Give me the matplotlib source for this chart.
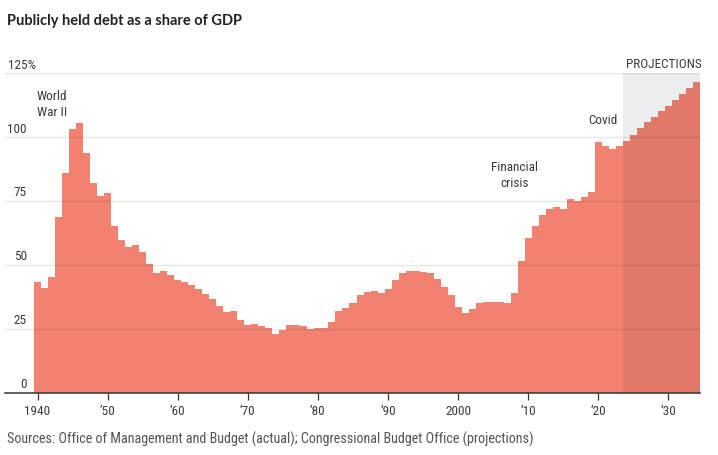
import numpy as np
import matplotlib
matplotlib.use("Agg")
import matplotlib.pyplot as plt
from matplotlib.transforms import blended_transform_factory
from matplotlib import font_manager

# ---- data ----
years = list(range(1940, 2035))
debt_pct = [
    43.3, 41.1, 45.4, 68.8, 86.0, 103.2, 105.5, 93.6, 82.1, 76.9,   # 1940s
    78.2, 65.2, 59.6, 57.0, 57.7, 55.2, 50.5, 46.9, 47.5, 45.9,     # 1950s
    44.1, 43.3, 42.1, 40.7, 38.7, 36.5, 33.7, 31.7, 32.0, 28.4,     # 1960s
    26.6, 26.7, 26.1, 25.1, 23.1, 24.4, 26.4, 26.6, 26.2, 24.8,     # 1970s
    25.3, 25.2, 27.7, 32.0, 32.9, 35.2, 38.2, 39.4, 39.8, 39.1,     # 1980s
    40.4, 43.9, 46.7, 47.6, 47.5, 47.2, 46.7, 44.3, 41.5, 38.1,     # 1990s
    33.3, 31.3, 32.6, 35.0, 35.5, 35.6, 35.3, 35.2, 38.9, 51.6,     # 2000s
    60.4, 65.2, 69.5, 71.7, 72.7, 71.7, 75.6, 75.1, 76.6, 78.4,     # 2010s
    98.1, 96.7, 95.4, 96.5, 98.6, 100.8, 103.6, 105.8, 107.9, 110.1,  # 2020s
    112.3, 114.4, 116.7, 119.1, 121.7,                              # 2030s
]
projection_start = 2024
x_ticks = [1940, 1950, 1960, 1970, 1980, 1990, 2000, 2010, 2020, 2030]
x_tick_labels = ["1940", "\u201950", "\u201960", "\u201970", "\u201980",
                 "\u201990", "2000", "\u201910", "\u201920", "\u201930"]
y_ticks = [0, 25, 50, 75, 100, 125]
y_tick_labels = ["0", "25", "50", "75", "100", "125%"]

title = "Publicly held debt as a share of GDP"
source = "Sources: Office of Management and Budget (actual); Congressional Budget Office (projections)"

# ---- style ----
available = {f.name for f in font_manager.fontManager.ttflist}
narrow = [f for f in ["Liberation Sans Narrow", "Roboto Condensed", "Open Sans Condensed"]
          if f in available]
body_family = narrow + ["Lato", "DejaVu Sans"]
plt.rcParams["font.family"] = body_family
W, H = 718, 456
fig = plt.figure(figsize=(W / 100, H / 100), dpi=100)
fig.patch.set_facecolor("white")

left_px, right_px = 5, 700
bottom_px, top_px = 393.5, 74.3
ax = fig.add_axes([left_px / W, (H - bottom_px) / H,
                   (right_px - left_px) / W, (bottom_px - top_px) / H])

bar_color = "#F2826F"
text_color = "#3a3a3a"
fs = 9.5 if narrow else 8.8
fs_src = 10.2 if narrow else 9.0

edges = np.append(np.array(years) - 0.5, years[-1] + 0.5)
ax.stairs(debt_pct, edges, fill=True, color=bar_color, linewidth=0, zorder=2)

# projection shading
ax.axvspan(projection_start - 0.5, years[-1] + 0.5, color="#0a1020",
           alpha=0.075, linewidth=0, zorder=3)

# gridlines over the bars
for yv in y_ticks[1:]:
    ax.axhline(yv, color="black", alpha=0.09, linewidth=1.0, zorder=4)

x_first = 1940 - 32.5 / 7.0
ax.set_xlim(x_first, years[-1] + 0.5)
ax.set_ylim(0, 125)

for s in ["top", "right", "left"]:
    ax.spines[s].set_visible(False)
ax.spines["bottom"].set_color("#333333")
ax.spines["bottom"].set_linewidth(1.1)
ax.spines["bottom"].set_zorder(6)

ax.set_yticks([])
ax.set_xticks(x_ticks)
ax.set_xticklabels(x_tick_labels)
ax.tick_params(axis="x", length=5, width=0.9, color="#333333",
               labelsize=fs, labelcolor=text_color, pad=3)

# y labels inside the plot, above the gridlines
ytr = blended_transform_factory(ax.transAxes, ax.transData)
lab_x = (27 - left_px) / (right_px - left_px)
pct_x = (8 - left_px) / (right_px - left_px)
for yv, lab in zip(y_ticks, y_tick_labels):
    if lab.endswith("%"):
        ax.text(pct_x, yv + 1.0, lab, transform=ytr, ha="left", va="bottom",
                fontsize=fs, color=text_color, zorder=7)
    else:
        ax.text(lab_x, yv + 1.0, lab, transform=ytr, ha="right", va="bottom",
                fontsize=fs, color=text_color, zorder=7)

# annotations
ax.text(1939.9, 107.5, "World\nWar II", ha="left", va="bottom", fontsize=fs,
        color=text_color, linespacing=1.3, zorder=7)
ax.text(2008.0, 79.8, "Financial\ncrisis", ha="center", va="bottom", fontsize=fs,
        color=text_color, linespacing=1.3, zorder=7)
ax.text(2022.7, 104.5, "Covid", ha="right", va="bottom", fontsize=fs,
        color=text_color, zorder=7)
ax.text(years[-1] + 0.7, 126.2, "PROJECTIONS", ha="right", va="bottom",
        fontsize=fs, color=text_color, zorder=7, clip_on=False)

fig.text(7 / W, 1 - 21 / H, title, ha="left", va="center", fontsize=10.5,
         fontweight="bold", color="#222222", family=["Lato", "DejaVu Sans"])
fig.text(7 / W, 1 - 439 / H, source, ha="left", va="center", fontsize=fs_src,
         color="#555555")

fig.savefig("out.png", dpi=100, facecolor="white")
